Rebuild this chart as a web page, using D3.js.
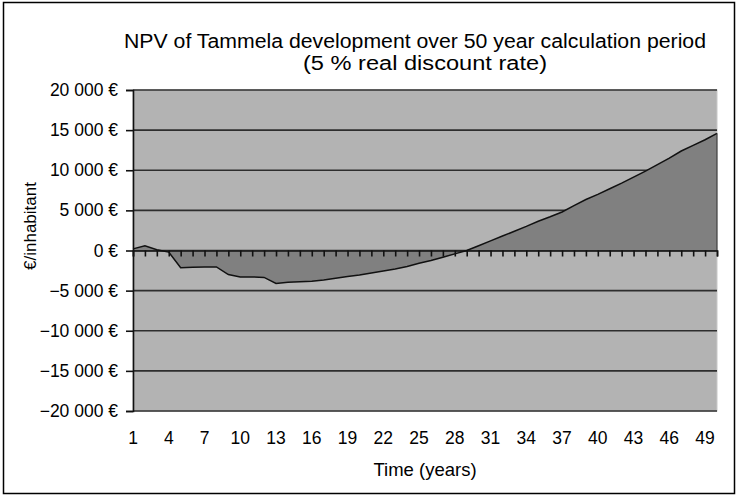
<!DOCTYPE html>
<html>
<head>
<meta charset="utf-8">
<script src="https://cdn.jsdelivr.net/npm/d3@7"></script>
<style>
  body { margin: 0; background: #fff; }
  svg { display: block; font-family: "Liberation Sans", Arial, sans-serif; }
</style>
</head>
<body>
<svg id="canvas" width="737" height="496"></svg>
<script>
// years 1..50
const years = d3.range(1, 51)
// NPV per inhabitant
const npv = [
    200, 600, 100, -200, -2150, -2100, -2050, -2050, -3000, -3300,
    -3300, -3350, -4100, -3950, -3880, -3830, -3670, -3460, -3250, -3040,
    -2790, -2550, -2300, -2000, -1600, -1250, -830, -420, 0, 600,
    1200, 1800, 2400, 3000, 3650, 4200, 4800, 5600, 6350, 7000,
    7700, 8400, 9150, 9900, 10700, 11500, 12400, 13100, 13800, 14600
]
const yTicks = [20000, 15000, 10000, 5000, 0, -5000, -10000, -15000, -20000]
const xLabels = d3.range(1, 51, 3)
const titleLines = ['NPV of Tammela development over 50 year calculation period', '(5 % real discount rate)']

const data = years.map((yr, i) => ({year: yr, value: npv[i]}))

const svg = d3.select('#canvas')
const plotL = 133, plotR = 717, plotT = 90, plotB = 411

// outer frame
svg.append('rect')
    .attr('x', 3.5).attr('y', 2.5)
    .attr('width', 731).attr('height', 491)
    .attr('fill', '#fff').attr('stroke', '#000').attr('stroke-width', 1.5)

const x = d3.scalePoint().domain(years).range([plotL, plotR])
const y = d3.scaleLinear().domain([-20000, 20000]).range([plotB, plotT])

// plot background
svg.append('rect')
    .attr('x', plotL).attr('y', plotT)
    .attr('width', plotR - plotL).attr('height', plotB - plotT)
    .attr('fill', '#b3b3b3')
    .attr('stroke', '#c8c8c8')

// gridlines
svg.append('g')
    .selectAll('line')
    .data(yTicks)
    .enter()
    .append('line')
    .attr('x1', plotL).attr('x2', plotR)
    .attr('y1', d => y(d)).attr('y2', d => y(d))
    .attr('stroke', '#2e2e2e')
    .attr('stroke-width', 1.6)

// area
const area = d3.area()
    .x(d => x(d.year))
    .y0(y(0))
    .y1(d => y(d.value))
svg.append('path')
    .datum(data)
    .attr('d', area)
    .attr('fill', '#808080')

const line = d3.line()
    .x(d => x(d.year))
    .y(d => y(d.value))
svg.append('path')
    .datum(data)
    .attr('d', line)
    .attr('fill', 'none')
    .attr('stroke', '#111')
    .attr('stroke-width', 1.5)

// right edge of area
svg.append('line')
    .attr('x1', x(50)).attr('x2', x(50))
    .attr('y1', y(0)).attr('y2', y(npv[49]))
    .attr('stroke', '#333').attr('stroke-width', 1)

// x axis on the zero line
const xAxis = d3.axisBottom(x).tickSize(6).tickFormat('')
const gx = svg.append('g')
    .attr('transform', `translate(0,${y(0)})`)
    .call(xAxis)
gx.select('.domain').attr('stroke', '#111').attr('stroke-width', 1.6)
gx.selectAll('.tick line').attr('stroke', '#111').attr('stroke-width', 1.6)

// x labels below the plot
svg.append('g')
    .selectAll('text')
    .data(xLabels)
    .enter()
    .append('text')
    .attr('x', d => x(d))
    .attr('y', 444)
    .attr('text-anchor', 'middle')
    .attr('font-size', 17.5)
    .attr('fill', '#000')
    .text(d => d)

// y axis
const yAxis = d3.axisLeft(y)
    .tickValues(yTicks)
    .tickSize(7)
    .tickPadding(8)
    .tickFormat(d => d3.format(',')(d).replace(/,/g, '\u00a0') + ' \u20ac')
const gy = svg.append('g')
    .attr('transform', `translate(${plotL},0)`)
    .call(yAxis)
gy.select('.domain').attr('stroke', '#111').attr('stroke-width', 1.6)
gy.selectAll('.tick line').attr('stroke', '#111').attr('stroke-width', 1.6)
gy.selectAll('.tick text')
    .attr('font-size', 17.5)
    .attr('font-family', '"Liberation Sans", Arial, sans-serif')
    .attr('fill', '#000')

// titles
const titleCx = [415, 425], titleLen = [582, 244]
svg.append('g')
    .selectAll('text')
    .data(titleLines)
    .enter()
    .append('text')
    .attr('x', (d, i) => titleCx[i])
    .attr('y', (d, i) => 48 + i * 22)
    .attr('text-anchor', 'middle')
    .attr('font-size', 20)
    .attr('textLength', (d, i) => titleLen[i])
    .attr('lengthAdjust', 'spacingAndGlyphs')
    .attr('fill', '#000')
    .text(d => d)

svg.append('text')
    .attr('x', 425)
    .attr('y', 476)
    .attr('text-anchor', 'middle')
    .attr('font-size', 18.5)
    .text('Time (years)')

svg.append('text')
    .attr('transform', 'translate(36,226) rotate(-90)')
    .attr('text-anchor', 'middle')
    .attr('font-size', 17)
    .text('\u20ac/inhabitant')
</script>
</body>
</html>
